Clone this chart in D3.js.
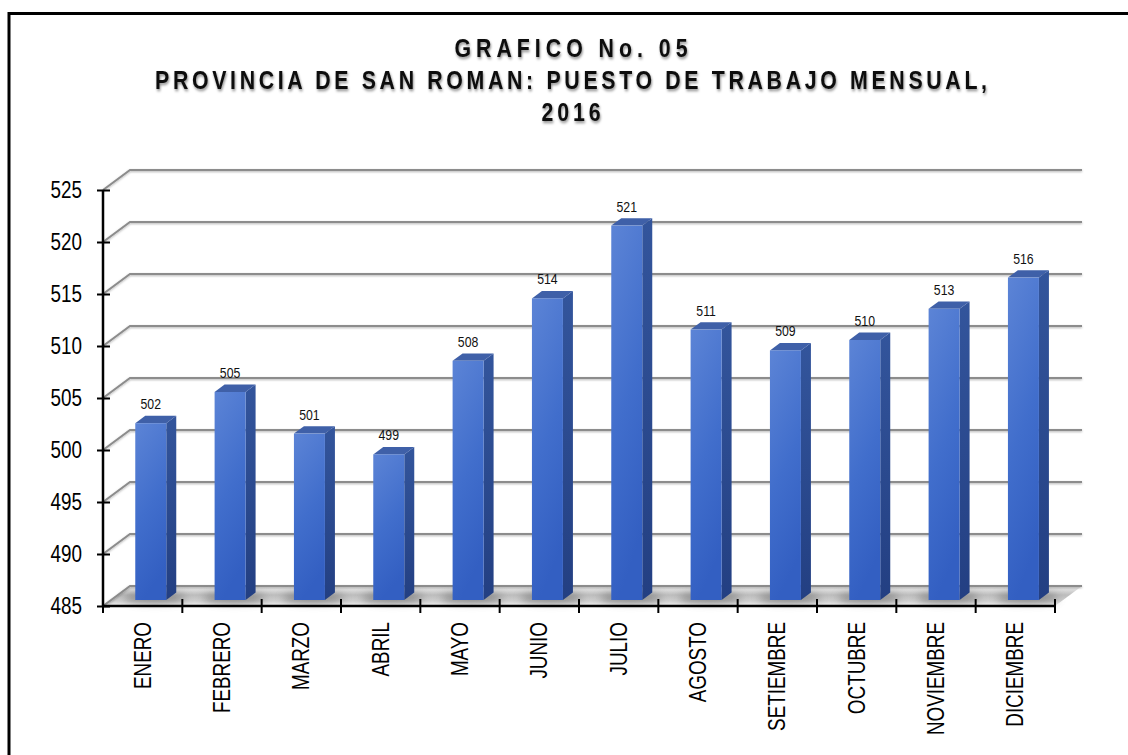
<!DOCTYPE html>
<html>
<head>
<meta charset="utf-8">
<script src="https://cdn.jsdelivr.net/npm/d3@7/dist/d3.min.js"></script>
<style>
  body { margin: 0; background: #fff; }
  text { font-family: "Liberation Sans", Arial, sans-serif; }
</style>
</head>
<body>
<div id="chart"></div>
<script>
var months = ["ENERO", "FEBRERO", "MARZO", "ABRIL", "MAYO", "JUNIO", "JULIO",
              "AGOSTO", "SETIEMBRE", "OCTUBRE", "NOVIEMBRE", "DICIEMBRE"];
var puestos = [502, 505, 501, 499, 508, 514, 521, 511, 509, 510, 513, 516];
var yTicks = [485, 490, 495, 500, 505, 510, 515, 520, 525];
var titleLines = ["GRAFICO No. 05",
                  "PROVINCIA DE SAN ROMAN: PUESTO DE TRABAJO MENSUAL,",
                  "2016"];

var width = 1128, height = 755;
var narrow = 0.82; // no Arial Narrow installed, so squeeze Liberation Sans

var x = d3.scaleBand().domain(months).range([103, 1055]).padding(0);
var y = d3.scaleLinear().domain([485, 525]).range([606, 190]);

// 3d depth of the plot box, and where the bars sit inside it
var depth = {dx: 27, dy: -20};
var f0 = 0.3, f1 = 0.67;
var barW = 31;

var svg = d3.select("#chart").append("svg")
    .attr("width", width)
    .attr("height", height);

var defs = svg.append("defs");

var shadow = defs.append("filter").attr("id", "tshadow")
    .attr("x", "-5%").attr("y", "-30%").attr("width", "110%").attr("height", "160%");
shadow.append("feDropShadow")
    .attr("dx", 1).attr("dy", 2).attr("stdDeviation", 1.4)
    .attr("flood-color", "#000").attr("flood-opacity", 0.45);

var lshadow = defs.append("filter").attr("id", "lshadow")
    .attr("x", "-5%").attr("y", "-100%").attr("width", "110%").attr("height", "300%");
lshadow.append("feDropShadow")
    .attr("dx", 0).attr("dy", 1).attr("stdDeviation", 0.8)
    .attr("flood-color", "#000").attr("flood-opacity", 0.3);

var blur = defs.append("filter").attr("id", "blur")
    .attr("x", "-50%").attr("y", "-100%").attr("width", "200%").attr("height", "300%");
blur.append("feGaussianBlur").attr("stdDeviation", 4);

var front = defs.append("linearGradient").attr("id", "front")
    .attr("x1", 0).attr("y1", 0).attr("x2", 0.25).attr("y2", 1);
front.append("stop").attr("offset", "0%").attr("stop-color", "#5c84d6");
front.append("stop").attr("offset", "55%").attr("stop-color", "#416ecc");
front.append("stop").attr("offset", "100%").attr("stop-color", "#335fc2");

var side = defs.append("linearGradient").attr("id", "side")
    .attr("x1", 0).attr("y1", 0).attr("x2", 0).attr("y2", 1);
side.append("stop").attr("offset", "0%").attr("stop-color", "#33559c");
side.append("stop").attr("offset", "100%").attr("stop-color", "#233f82");

var floorG = defs.append("linearGradient").attr("id", "floor")
    .attr("x1", 0).attr("y1", 0).attr("x2", 0).attr("y2", 1);
floorG.append("stop").attr("offset", "0%").attr("stop-color", "#f2f2f2");
floorG.append("stop").attr("offset", "45%").attr("stop-color", "#bdbdbd");
floorG.append("stop").attr("offset", "75%").attr("stop-color", "#cfcfcf");
floorG.append("stop").attr("offset", "100%").attr("stop-color", "#f0f0f0");

// outer frame
svg.append("rect")
    .attr("x", 9).attr("y", 13.5)
    .attr("width", 1140).attr("height", 760)
    .attr("fill", "none")
    .attr("stroke", "#000")
    .attr("stroke-width", 3);

// title
var titleW = [233, 832, 59];
var titleY = [57, 89, 121];
svg.append("g").selectAll("text")
    .data(titleLines)
    .enter().append("text")
    .attr("transform", function(d, i) {
        return "translate(571," + titleY[i] + ") scale(" + narrow + ",1)";
    })
    .attr("text-anchor", "middle")
    .attr("textLength", function(d, i) { return titleW[i] / narrow; })
    .attr("lengthAdjust", "spacing")
    .attr("filter", "url(#tshadow)")
    .style("font-size", "26px")
    .style("font-weight", "bold")
    .style("fill", "#111")
    .text(function(d) { return d; });

var x0 = x.range()[0], x1 = x.range()[1];

// floor
var yb = y(485);
svg.append("polygon")
    .attr("points", [[x0, yb], [x1, yb], [x1 + depth.dx, yb + depth.dy], [x0 + depth.dx, yb + depth.dy]].join(" "))
    .attr("fill", "url(#floor)");

// gridlines on side and back walls
var grid = svg.append("g").attr("filter", "url(#lshadow)");
grid.selectAll("path")
    .data(yTicks)
    .enter().append("path")
    .attr("d", function(d) {
        return "M" + x0 + "," + y(d) +
               "L" + (x0 + depth.dx) + "," + (y(d) + depth.dy) +
               "L" + (x1 + depth.dx) + "," + (y(d) + depth.dy);
    })
    .attr("fill", "none")
    .attr("stroke", "#8c8c8c")
    .attr("stroke-width", 2);

// bars
function barGeom(m, v) {
    var cx = x(m) + x.bandwidth() / 2 + f0 * depth.dx;
    return {
        l: cx - barW / 2,
        r: cx + barW / 2,
        top: y(v) + f0 * depth.dy,
        bot: y(485) + f0 * depth.dy,
        ddx: (f1 - f0) * depth.dx,
        ddy: (f1 - f0) * depth.dy,
        cx: cx
    };
}

var bars = svg.append("g").selectAll("g")
    .data(months)
    .enter().append("g")
    .each(function(m, i) {
        var g = d3.select(this);
        var b = barGeom(m, puestos[i]);
        g.append("ellipse")
            .attr("cx", b.cx + 4).attr("cy", b.bot - 2)
            .attr("rx", barW * 1.0).attr("ry", 5)
            .attr("fill", "#666")
            .attr("opacity", 0.7)
            .attr("filter", "url(#blur)");
        g.append("polygon")
            .attr("points", [[b.r, b.top], [b.r + b.ddx, b.top + b.ddy],
                             [b.r + b.ddx, b.bot + b.ddy], [b.r, b.bot]].join(" "))
            .attr("fill", "url(#side)");
        g.append("polygon")
            .attr("points", [[b.l, b.top], [b.l + b.ddx, b.top + b.ddy],
                             [b.r + b.ddx, b.top + b.ddy], [b.r, b.top]].join(" "))
            .attr("fill", "#3f60a8");
        g.append("rect")
            .attr("x", b.l).attr("y", b.top)
            .attr("width", barW).attr("height", b.bot - b.top)
            .attr("fill", "url(#front)");
        g.append("text")
            .attr("transform", "translate(" + b.cx + "," + (b.top - 14) + ") scale(" + narrow + ",1)")
            .attr("text-anchor", "middle")
            .style("font-size", "15px")
            .style("fill", "#111")
            .text(puestos[i]);
    });

// y axis
var yAxis = svg.append("g")
    .attr("transform", "translate(" + x0 + ",0)")
    .call(d3.axisLeft(y).tickValues(yTicks).tickSize(6));
yAxis.select(".domain").attr("stroke-width", 2.5).attr("d", "M0," + y(525) + "V" + y(485));
yAxis.selectAll(".tick line").attr("x1", 7).attr("x2", -6).attr("stroke-width", 2);
yAxis.selectAll(".tick text")
    .attr("x", 0)
    .attr("transform", "translate(-21,0) scale(" + narrow + ",1)")
    .style("font-size", "23px")
    .style("font-family", null)
    .attr("fill", "#000");

// x axis
var xAxis = svg.append("g")
    .attr("transform", "translate(0," + y(485) + ")")
    .call(d3.axisBottom(x).tickSize(0));
xAxis.select(".domain").attr("stroke-width", 2.5).attr("d", "M" + x0 + ",0H" + x1);
xAxis.selectAll(".tick text")
    .attr("transform", "rotate(-90) translate(-16,0) scale(" + narrow + ",1)")
    .attr("x", 0)
    .attr("y", 0)
    .attr("dy", "0.35em")
    .attr("text-anchor", "end")
    .style("font-size", "23px")
    .style("font-family", null)
    .attr("fill", "#000");

// category boundary ticks
xAxis.append("g").selectAll("line")
    .data(months.concat(["end"]))
    .enter().append("line")
    .attr("x1", function(d) { return d === "end" ? x1 : x(d); })
    .attr("x2", function(d) { return d === "end" ? x1 : x(d); })
    .attr("y1", -7).attr("y2", 7)
    .attr("stroke", "#000")
    .attr("stroke-width", 2);
</script>
</body>
</html>
